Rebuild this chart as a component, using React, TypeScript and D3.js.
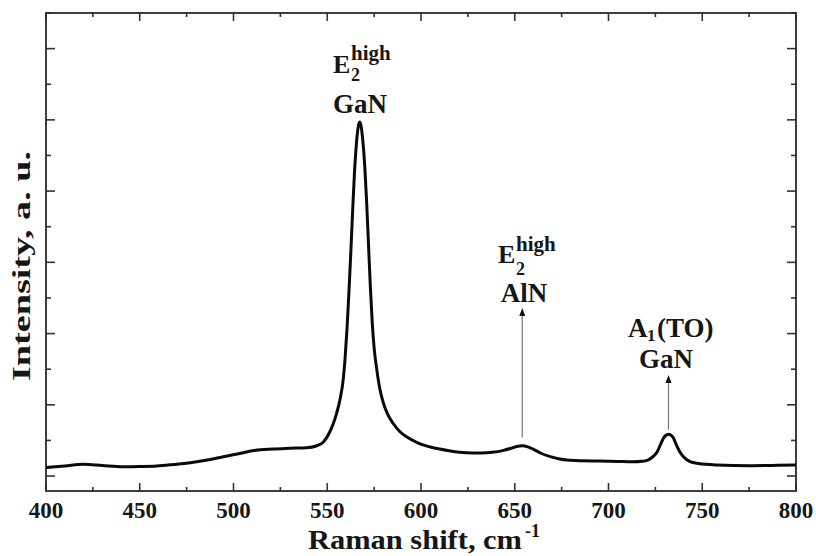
import React from "react";
import * as d3 from "d3";

const ramanShift = [
  400, 410, 420, 430, 441, 450, 459, 468, 477, 486, 494, 502, 510, 521, 530, 539, 544, 548,
  551, 553, 555, 557, 558.5, 559.5, 560.5, 561.5, 562.5, 563.5, 564.5, 565.5, 566.5, 567.2,
  568, 569, 570, 571, 572, 573, 574, 575, 576.5, 578, 580, 582, 585, 588.8, 592.5, 598, 602,
  606, 615, 624, 632, 638, 644, 648, 651, 654, 657, 660, 664, 669, 674, 678, 686, 695, 705,
  713, 718, 721, 724, 726, 728, 729.5, 731, 732, 733, 734.5, 736, 738, 740, 743.5, 748, 758,
  775, 790, 800,
];
const intensity = [
  120, 141, 165, 148, 131, 134, 141, 162, 187, 225, 267, 309, 356, 380, 390, 398, 422, 478,
  600, 720, 880, 1100, 1350, 1650, 2050, 2550, 3100, 3700, 4250, 4650, 4900, 4970,
  4920, 4700, 4350, 3850, 3250, 2650, 2150, 1800, 1480, 1230, 1020, 880, 745, 622, 548, 470, 430,
  400, 355, 328, 325, 333, 360, 390, 415, 426, 410, 375, 320, 272, 240, 225, 215, 211, 205,
  201, 208, 225, 280, 342, 460, 540, 578, 586, 578, 540, 450, 342, 270, 201, 175, 155,
  145, 150, 155,
];

const xDomain = [400, 800];
const yDomain = [-210, 6500];
const xTickLabels = ["400", "450", "500", "550", "600", "650", "700", "750", "800"];
const xTitle = "Raman shift, cm";
const yTitle = "Intensity, a. u.";

// peak annotations: arrow x position (cm-1), arrow base / tip intensity
const alnArrow = { shift: 654, from: 540, to: 2360 };
const a1Arrow = { shift: 732, from: 650, to: 1420 };

const W = 816;
const H = 556;
const M = { left: 46, right: 796, top: 13, bottom: 491 };
const FONT = "'Liberation Serif', 'Times New Roman', serif";
const INK = "#161616";

export default function App() {
  const x = d3.scaleLinear().domain(xDomain).range([M.left, M.right]);
  const y = d3.scaleLinear().domain(yDomain).range([M.bottom, M.top]);

  const pts: [number, number][] = ramanShift.map((s, i) => [s, intensity[i]]);
  const line = d3
    .line<[number, number]>()
    .x((d) => x(d[0]))
    .y((d) => y(d[1]))
    .curve(d3.curveMonotoneX);

  const xMajor = xTickLabels.map(Number);
  const xMinor = d3.range(425, 800, 50);
  const yMajor = d3.range(0, 6001, 1000);
  const yMinor = d3.range(500, 6501, 1000);

  const arrow = (a: { shift: number; from: number; to: number }, key: string) => {
    const ax = x(a.shift);
    const y0 = y(a.from);
    const y1 = y(a.to);
    return (
      <g key={key}>
        <line x1={ax} x2={ax} y1={y0} y2={y1 + 6} stroke="#777" strokeWidth={1.2} />
        <path d={`M${ax},${y1} L${ax - 3},${y1 + 8} L${ax + 3},${y1 + 8} Z`} fill="#111" />
      </g>
    );
  };

  return (
    <svg width={W} height={H} style={{ position: "absolute", left: 0, top: 0, background: "#fff" }}>
      <rect x={0} y={0} width={W} height={H} fill="#fff" />
      {/* ticks */}
      <g stroke="#333" strokeWidth={1.6}>
        {xMajor.map((v) => (
          <g key={"xM" + v}>
            <line x1={x(v)} x2={x(v)} y1={M.bottom} y2={M.bottom - 8} />
            <line x1={x(v)} x2={x(v)} y1={M.top} y2={M.top + 8} />
          </g>
        ))}
        {xMinor.map((v) => (
          <g key={"xm" + v}>
            <line x1={x(v)} x2={x(v)} y1={M.bottom} y2={M.bottom - 4} />
            <line x1={x(v)} x2={x(v)} y1={M.top} y2={M.top + 4} />
          </g>
        ))}
        {yMajor.map((v) => (
          <g key={"yM" + v}>
            <line x1={M.left} x2={M.left + 9} y1={y(v)} y2={y(v)} />
            <line x1={M.right} x2={M.right - 9} y1={y(v)} y2={y(v)} />
          </g>
        ))}
        {yMinor.map((v) => (
          <g key={"ym" + v}>
            <line x1={M.left} x2={M.left + 5} y1={y(v)} y2={y(v)} />
            <line x1={M.right} x2={M.right - 5} y1={y(v)} y2={y(v)} />
          </g>
        ))}
      </g>
      <rect
        x={M.left}
        y={M.top}
        width={M.right - M.left}
        height={M.bottom - M.top}
        fill="none"
        stroke="#2a2a2a"
        strokeWidth={1.8}
      />
      {/* spectrum */}
      <path d={line(pts) || ""} fill="none" stroke="#0a0a0a" strokeWidth={3} strokeLinejoin="round" />

      {/* arrows */}
      {arrow(alnArrow, "aln")}
      {arrow(a1Arrow, "a1")}

      <g fontFamily={FONT} fontWeight="bold" fill={INK}>
        {/* x tick labels */}
        {xTickLabels.map((t) => (
          <text key={t} x={x(+t)} y={518} fontSize={23} textAnchor="middle">
            {t}
          </text>
        ))}
        {/* x title */}
        <text x={308} y={549} fontSize={27} textLength={214} lengthAdjust="spacingAndGlyphs">
          {xTitle}
        </text>
        <text x={525} y={537} fontSize={18}>
          -1
        </text>
        {/* y title */}
        <text
          transform={`translate(30,${266}) rotate(-90)`}
          fontSize={26}
          textAnchor="middle"
          textLength={230}
          lengthAdjust="spacingAndGlyphs"
        >
          {yTitle}
        </text>

        {/* E2 high GaN */}
        <text x={333} y={73} fontSize={26}>E</text>
        <text x={351} y={60} fontSize={21}>high</text>
        <text x={351} y={81} fontSize={18}>2</text>
        <text x={360} y={113} fontSize={27} textAnchor="middle">GaN</text>

        {/* E2 high AlN */}
        <text x={498} y={263} fontSize={26}>E</text>
        <text x={516} y={251} fontSize={21}>high</text>
        <text x={516} y={275} fontSize={18}>2</text>
        <text x={524} y={302} fontSize={27} textAnchor="middle">AlN</text>

        {/* A1(TO) GaN */}
        <text x={628} y={337} fontSize={27}>A</text>
        <text x={647} y={341} fontSize={17}>1</text>
        <text x={657} y={337} fontSize={27}>(TO)</text>
        <text x={666} y={368} fontSize={27} textAnchor="middle">GaN</text>
      </g>
    </svg>
  );
}
